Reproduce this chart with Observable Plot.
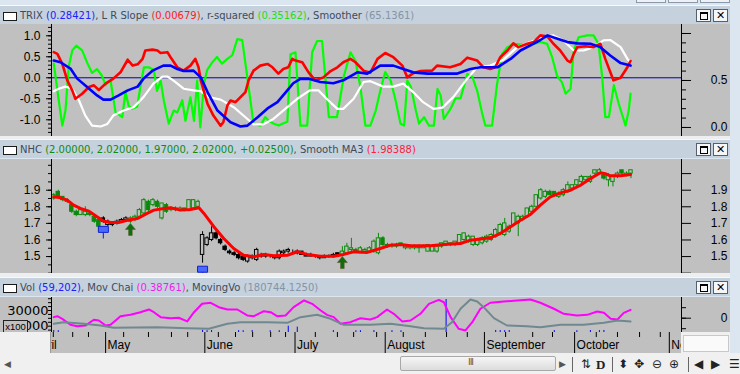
<!DOCTYPE html>
<html><head><meta charset="utf-8">
<script src="https://cdn.jsdelivr.net/npm/d3@7"></script>
<script src="https://cdn.jsdelivr.net/npm/@observablehq/plot@0.6"></script>
<style>
html,body{margin:0;padding:0;background:#dce6f1;}
#root{position:relative;width:740px;height:374px;overflow:hidden;background:#dce6f1;font-family:"Liberation Sans",Arial,sans-serif;}
.abs{position:absolute;}
.hdr{position:absolute;left:0;width:730px;height:19px;background:#c5d1dd;border-top:1px solid #f6f8fb;box-sizing:border-box;font-family:"DejaVu Sans",sans-serif;font-size:10px;line-height:17px;color:#3e4b5b;white-space:nowrap;overflow:hidden;}
.hdr .cb{position:absolute;left:3px;top:6px;width:12px;height:7px;background:#fff;border:1px solid #1a1a1a;}
.hdr .txt{position:absolute;left:20px;top:1px;}
.btn{position:absolute;top:3px;width:13px;height:11px;border:1px solid #55606c;background:#f4f6f8;font-size:11px;line-height:11px;text-align:center;color:#000;font-family:"DejaVu Sans",sans-serif;}
.sep{position:absolute;left:0;width:730px;background:#eceef0;}
.ico{position:absolute;top:357px;font-family:"DejaVu Sans",sans-serif;font-size:12px;color:#222;}
</style></head>
<body><div id="root"></div>
<script>
// ---------------- DATA ----------------
// x positions are trading-day indexes (bar i is centred on i + 0.5)
const monthNames = ["April","May","June","July","August","September","October","November"];
const monthStarts = [-4.6, 12, 34, 54, 74, 96, 116, 137];
const weekTicks = [0.4, 4.7, 8.2, 16, 21.5, 26.6, 30.2, 37, 40.8, 44.6, 48.6, 51.9, 58.5, 63.4, 67, 72.1, 78, 82.9, 87.6, 92.2, 100.7, 106.7, 111.1, 120.8, 125.5, 130.4, 135];

// Panel 1 : TRIX (blue), L R Slope (red), Smoother (white) on left axis; r-squared (green) on right axis 0..1
const trix = [[0,0.41],[1.5,0.37],[3.7,0.22],[5.2,-0.02],[7.4,-0.22],[9.6,-0.42],[11,-0.52],[12.6,-0.52],[14.4,-0.42],[16.4,-0.30],[18.6,-0.21],[19.9,-0.02],[21.9,0.17],[24.3,0.29],[25.9,0.29],[27.4,0.21],[28.8,0.16],[31,0.17],[32.6,0.01],[34.1,-0.34],[36.3,-0.78],[39.2,-1.06],[41.4,-1.16],[42.9,-1.14],[45.2,-0.94],[47.4,-0.73],[49.6,-0.58],[51.8,-0.30],[53.1,-0.13],[54.6,-0.03],[56.8,-0.03],[59.1,-0.10],[62,-0.13],[64.2,-0.06],[67.3,0.13],[69.5,0.10],[72.4,0.29],[75.3,0.29],[77.5,0.21],[79.7,0.13],[82.9,0.10],[89.5,0.10],[92.4,0.21],[94.6,0.25],[98.4,0.25],[101.3,0.45],[103.5,0.65],[105.7,0.77],[107.9,0.90],[109.5,1.01],[111.7,0.93],[113.9,0.85],[116.1,0.82],[119,0.81],[121.2,0.73],[123.4,0.53],[125.7,0.35],[127.9,0.29]];
const lrSlope = [[0,0.61],[0.8,0.57],[1.9,0.33],[3,-0.06],[4.1,-0.30],[4.8,-0.50],[6.3,-0.38],[7.8,-0.22],[8.9,-0.18],[10,-0.29],[11.5,-0.14],[13.2,-0.02],[14.8,0.13],[16.4,0.43],[17.5,0.29],[18.6,0.32],[19.7,0.45],[20.3,0.65],[21.9,0.67],[23,0.65],[23.7,0.59],[25.2,0.61],[25.9,0.49],[27.4,0.25],[28.8,0.17],[30.3,0.29],[31.4,0.45],[32.1,0.25],[32.6,-0.06],[34.1,-0.62],[35.4,-0.90],[37,-1.14],[37.6,-1.06],[38.5,-0.66],[39.2,-0.54],[40.3,-0.58],[41.4,-0.46],[42.5,-0.34],[43.2,-0.06],[44.3,0.17],[45.8,0.29],[47.4,0.33],[48.5,0.25],[49.8,0.10],[50.9,0.21],[52,0.25],[52.9,0.45],[53.6,0.41],[55.1,0.37],[56.5,0.13],[58,-0.06],[59.8,0.01],[61.4,0.16],[62.9,0.25],[64.2,0.37],[65.8,0.45],[66.9,0.37],[68.7,0.17],[70.2,0.12],[71.8,0.45],[73.5,0.59],[75.3,0.49],[77.3,0.29],[78.4,0.01],[79.7,0.11],[81.3,0.16],[83.9,0.17],[85,0.29],[87.9,0.25],[90.2,0.33],[91.7,0.48],[93.9,0.41],[95.3,0.25],[96.8,0.21],[97.9,0.25],[99,0.49],[100.6,0.65],[101.9,0.82],[103,0.73],[105,0.81],[106.4,0.85],[107.9,1.01],[109.5,0.98],[110.8,0.81],[112.3,0.65],[113.9,0.41],[114.6,0.37],[115.3,0.57],[116.1,0.73],[117.9,0.75],[119.7,0.73],[121.2,0.81],[122.3,0.45],[124.1,-0.06],[125.7,0.00],[127.2,0.25],[127.9,0.40]];
const smoother = [[0,-0.32],[1.1,-0.26],[2.6,-0.21],[4.1,-0.26],[5.6,-0.54],[7,-0.90],[8.5,-1.14],[10.4,-1.16],[11.9,-1.10],[13.2,-0.90],[15.5,-0.78],[17.7,-0.70],[19.9,-0.46],[22.1,-0.14],[24.1,0.03],[25.2,0.03],[26.5,-0.06],[28.8,-0.26],[31,-0.30],[32.6,-0.32],[34.3,-0.46],[37,-0.52],[39.9,-0.70],[42.5,-0.94],[44.3,-1.11],[46.5,-1.11],[48.7,-0.98],[51.8,-0.70],[54,-0.50],[56.8,-0.30],[58.7,-0.30],[60.9,-0.54],[62.9,-0.74],[64.2,-0.74],[66.5,-0.50],[68.7,-0.10],[70.2,-0.08],[73.1,-0.21],[75.3,-0.21],[77.5,-0.14],[79.7,-0.34],[81.9,-0.58],[84.2,-0.74],[86.2,-0.71],[88.6,-0.46],[91.7,-0.02],[93.9,0.25],[96.8,0.29],[99.7,0.43],[102.8,0.73],[105.7,0.85],[108.6,0.97],[110.8,1.01],[113,0.89],[115.3,0.65],[117.5,0.65],[119.7,0.73],[121.9,0.89],[123.4,0.90],[125.7,0.73],[127.2,0.45],[127.9,0.37]];
const rSquared = [[0,0.68],[0.4,0.54],[1.1,0.29],[1.9,0.02],[2.6,0.18],[3.3,0.64],[4.1,0.82],[5,0.87],[6.3,0.82],[7.4,0.69],[8.5,0.58],[9.6,0.62],[10.7,0.55],[11.5,0.45],[11.9,0.48],[12.6,0.50],[13.7,0.16],[15.2,0.11],[15.9,0.38],[16.6,0.23],[17.4,0.20],[18.5,0.22],[19.2,0.43],[20,0.64],[21.1,0.64],[22.2,0.61],[22.9,0.39],[23.7,0.50],[24.4,0.29],[25.5,0.04],[26.6,0.18],[27.4,0.16],[28.5,0.29],[29.2,0.07],[30.3,0.32],[31.1,0.07],[31.8,0.50],[32.5,0.00],[33.3,0.46],[34,0.61],[35.1,0.69],[36.2,0.75],[37.3,0.68],[38.5,0.73],[39.6,0.77],[40.7,0.94],[41.8,0.93],[42.9,0.54],[44.3,0.04],[45.8,0.02],[46.9,0.11],[47.7,0.07],[48.8,0.04],[49.9,0.02],[50.7,0.04],[51.8,0.06],[52.5,0.78],[53.6,0.80],[54.7,0.02],[56.2,0.02],[57.3,0.80],[58.4,0.92],[59.5,0.92],[61,0.11],[62.8,0.11],[64.3,0.54],[65.8,0.80],[66.9,0.71],[68,0.43],[69.1,0.02],[70.2,0.02],[71.4,0.18],[72.4,0.39],[73.5,0.59],[74.7,0.50],[75.8,0.29],[76.9,0.04],[77.7,0.02],[78.4,0.50],[79.2,0.43],[80.3,0.18],[81,0.04],[82.1,0.11],[83.2,0.02],[84.3,0.02],[85.1,0.41],[85.8,0.34],[86.5,0.09],[88,0.20],[89.1,0.31],[90.2,0.31],[91.7,0.57],[92.8,0.54],[93.9,0.39],[95,0.15],[95.7,0.02],[97.2,0.02],[98.3,0.46],[99.4,0.78],[100.5,0.85],[102,0.89],[104.2,0.88],[106.4,0.89],[107.9,0.91],[109.4,0.89],[110.5,0.75],[111.6,0.55],[112.7,0.48],[113.5,0.36],[114.6,0.41],[115.3,0.82],[116.4,0.96],[118.3,0.98],[119.7,0.98],[120.8,0.89],[121.6,0.54],[122.3,0.11],[123.1,0.11],[124.2,0.45],[125.3,0.25],[126.8,0.02],[127.5,0.18],[127.9,0.36]];
const p1LeftTicks = [-1, -0.5, 0, 0.5, 1];
const p1RightTicks = [0, 0.5, 1];

// Panel 2 : NHC daily candles (open, high, low, close) and Smooth MA3
const opens  = [1.85,1.89,1.86,1.84,1.81,1.77,1.75,1.75,1.76,1.74,1.72,1.73,1.69,1.69,1.70,1.71,1.72,1.71,1.72,1.74,1.76,1.83,1.81,1.83,1.73,1.81,1.78,1.79,1.78,1.79,1.78,1.79,1.80,1.51,1.57,1.60,1.64,1.60,1.56,1.53,1.52,1.51,1.50,1.47,1.49,1.48,1.51,1.50,1.50,1.49,1.49,1.52,1.53,1.53,1.52,1.53,1.51,1.50,1.50,1.50,1.49,1.50,1.50,1.52,1.51,1.52,1.54,1.54,1.52,1.53,1.53,1.53,1.52,1.61,1.56,1.56,1.56,1.57,1.55,1.55,1.55,1.56,1.55,1.53,1.53,1.53,1.56,1.57,1.57,1.57,1.58,1.60,1.59,1.57,1.57,1.58,1.59,1.60,1.62,1.64,1.63,1.65,1.69,1.70,1.72,1.74,1.77,1.80,1.85,1.86,1.89,1.89,1.86,1.87,1.89,1.91,1.93,1.95,1.96,1.95,2.00,2.00,1.99,1.96,1.95,1.98,2.02,1.99,2.00];
const highs  = [1.88,1.90,1.86,1.85,1.82,1.78,1.79,1.80,1.77,1.75,1.73,1.74,1.72,1.71,1.72,1.73,1.74,1.74,1.75,1.79,1.85,1.84,1.85,1.84,1.82,1.82,1.80,1.80,1.80,1.79,1.84,1.84,1.84,1.65,1.62,1.68,1.65,1.61,1.57,1.54,1.53,1.52,1.51,1.51,1.51,1.55,1.52,1.52,1.51,1.50,1.54,1.54,1.55,1.54,1.54,1.53,1.52,1.52,1.51,1.50,1.51,1.51,1.52,1.52,1.56,1.58,1.61,1.55,1.56,1.55,1.56,1.60,1.64,1.62,1.58,1.58,1.58,1.58,1.57,1.57,1.57,1.57,1.57,1.57,1.57,1.57,1.58,1.59,1.58,1.59,1.63,1.64,1.63,1.62,1.61,1.62,1.63,1.64,1.67,1.70,1.73,1.69,1.76,1.75,1.75,1.79,1.81,1.87,1.91,1.90,1.90,1.89,1.89,1.91,1.95,1.93,1.96,1.99,1.98,1.99,2.02,2.03,2.00,2.00,1.99,2.01,2.02,2.01,2.02];
const lows   = [1.84,1.85,1.83,1.82,1.76,1.74,1.75,1.74,1.74,1.70,1.65,1.70,1.68,1.68,1.69,1.70,1.71,1.70,1.71,1.73,1.75,1.77,1.80,1.79,1.72,1.76,1.77,1.77,1.77,1.77,1.77,1.78,1.79,1.46,1.56,1.59,1.60,1.57,1.53,1.51,1.50,1.48,1.47,1.46,1.48,1.47,1.49,1.49,1.49,1.48,1.48,1.51,1.52,1.52,1.51,1.51,1.50,1.50,1.49,1.48,1.49,1.49,1.49,1.50,1.50,1.51,1.53,1.52,1.52,1.52,1.52,1.52,1.51,1.56,1.55,1.55,1.55,1.56,1.54,1.54,1.54,1.52,1.55,1.53,1.53,1.52,1.55,1.56,1.56,1.56,1.57,1.59,1.58,1.56,1.56,1.57,1.58,1.59,1.61,1.63,1.62,1.64,1.68,1.62,1.71,1.73,1.76,1.79,1.84,1.85,1.87,1.87,1.85,1.86,1.88,1.90,1.92,1.94,1.95,1.94,1.99,1.99,1.96,1.92,1.92,1.97,1.99,1.98,1.97];
const closes = [1.87,1.86,1.84,1.83,1.77,1.75,1.78,1.77,1.75,1.71,1.68,1.71,1.71,1.70,1.71,1.72,1.73,1.73,1.74,1.78,1.84,1.78,1.84,1.80,1.82,1.77,1.79,1.78,1.79,1.78,1.84,1.84,1.83,1.63,1.61,1.64,1.61,1.58,1.54,1.52,1.51,1.49,1.48,1.50,1.50,1.54,1.50,1.51,1.50,1.50,1.53,1.53,1.54,1.53,1.53,1.51,1.50,1.51,1.50,1.49,1.50,1.50,1.51,1.51,1.53,1.56,1.55,1.53,1.55,1.54,1.55,1.59,1.61,1.57,1.57,1.57,1.57,1.58,1.56,1.56,1.56,1.55,1.56,1.57,1.56,1.56,1.58,1.59,1.58,1.59,1.63,1.64,1.62,1.62,1.60,1.61,1.62,1.63,1.66,1.69,1.70,1.68,1.76,1.74,1.74,1.79,1.80,1.87,1.90,1.89,1.87,1.87,1.88,1.90,1.93,1.93,1.96,1.98,1.98,1.98,2.02,2.02,1.97,1.99,1.98,2.00,2.00,2.00,2.02];
const smoothMA3 = [[0,1.860],[1.5,1.854],[3,1.840],[4.4,1.810],[5.9,1.790],[7.8,1.774],[9.6,1.740],[11.1,1.713],[12.6,1.705],[14.4,1.705],[16.3,1.719],[18.5,1.729],[20.7,1.760],[22.2,1.780],[24.4,1.790],[25.9,1.794],[28.1,1.780],[30.3,1.784],[32.2,1.794],[33.3,1.760],[35.5,1.680],[37.7,1.609],[39.9,1.549],[42.1,1.508],[44.4,1.499],[46.6,1.513],[48.8,1.505],[51.8,1.508],[54,1.529],[56.2,1.513],[59.1,1.502],[62.1,1.502],[64.3,1.513],[66.5,1.529],[69.5,1.525],[72.4,1.549],[74.7,1.569],[76.9,1.573],[79.1,1.565],[83.5,1.565],[86.5,1.573],[90.2,1.579],[92.4,1.599],[96.8,1.613],[99,1.639],[101.3,1.680],[103.5,1.719],[105.7,1.754],[107.9,1.810],[110.1,1.860],[112.4,1.884],[114.6,1.900],[116.8,1.930],[119,1.970],[121.2,2.005],[122.3,2.000],[123.4,1.987],[125.7,1.987],[127.9,1.995]];
const buySignals = [17, 64];
const sellSignals = [11, 33];
const p2Ticks = [1.5, 1.6, 1.7, 1.8, 1.9];

// Panel 3 : volume (shares), Mov Chaikin (right axis units), MovingVol (x100 shares)
const volume = [450000,430000,150000,120000,180000,140000,110000,160000,130000,170000,150000,120000,100000,140000,110000,130000,90000,120000,160000,140000,180000,150000,120000,110000,140000,130000,100000,120000,110000,150000,130000,160000,180000,480000,430000,460000,150000,170000,140000,120000,160000,440000,430000,180000,450000,150000,130000,170000,420000,140000,430000,160000,1000000,150000,880000,180000,140000,160000,120000,150000,130000,140000,440000,160000,170000,150000,140000,420000,430000,150000,160000,440000,150000,140000,170000,430000,150000,420000,160000,130000,120000,140000,110000,130000,150000,120000,140000,4400000,180000,150000,130000,160000,140000,120000,150000,130000,170000,140000,460000,440000,430000,450000,140000,130000,150000,120000,160000,140000,130000,150000,170000,440000,140000,130000,150000,120000,430000,140000,160000,450000,150000,440000,460000,140000,130000,150000,120000,140000,59202];
const movChaikin = [[0,0.10],[0.8,0.19],[1.9,-0.06],[3.7,-0.63],[5.2,-0.76],[7,-0.70],[8.9,-0.15],[10,-0.22],[11.5,-0.70],[12.6,-0.63],[14.8,0.19],[17,0.32],[19.2,0.57],[21.1,0.83],[22.2,0.57],[23.7,0.10],[25.9,0],[27.7,0.04],[29.6,-0.31],[31.1,0.57],[32.9,1.37],[34.8,1.47],[36.6,1.05],[38.5,0.83],[40.7,0.83],[42.9,0.26],[44.4,0.19],[46.6,0.67],[48.1,0.57],[49.5,0.19],[51.4,0.26],[53.2,1.05],[55.5,1.69],[57.3,1.37],[59.2,0.73],[60.6,0.32],[62.1,0.10],[63.6,-0.53],[65.8,-0.38],[68,0],[70.2,-0.12],[71.7,0.10],[73.9,0.83],[75.4,0.42],[77.3,-0.31],[79.1,-0.22],[81.3,0.42],[83.2,1.37],[85.4,1.75],[86.5,1.52],[88,0.10],[89.8,-1.01],[91.3,-1.17],[92.8,-0.38],[94.6,0.90],[96.8,1.47],[99.8,1.59],[102.8,1.69],[105.7,1.78],[107.9,1.47],[110.9,0.90],[113.1,0.42],[116,0.26],[118.3,0.32],[120.5,0.64],[122,0.51],[123.5,-0.06],[125,-0.12],[126.4,0.51],[127.9,0.80]];
const movingVol = [[0,13057],[2.2,15096],[6.7,13057],[10.4,10892],[13.3,7962],[22.9,8726],[29.6,7452],[34.4,6688],[38.5,13057],[41.4,15096],[47.3,15096],[51.8,14331],[54.7,21465],[58.4,24522],[61.4,19427],[64.3,11783],[70.2,11783],[74.7,13057],[79.1,10000],[82.1,7452],[86.5,6688],[88.3,15096],[90.2,32166],[92.4,44013],[93.9,41465],[95.7,32166],[97.6,20191],[100.5,10892],[104.9,10000],[107.9,8726],[112.4,11783],[117.5,11783],[122,14331],[125,17261],[127.9,15987]];
const p3LeftTicks = [10000, 30000];
const p3RightTicks = [-1, 0, 1];

// ---------------- LAYOUT / SCALES ----------------
const root = document.getElementById("root");
const FONT = "Liberation Sans, Arial, sans-serif";
const XDOMAIN = [0, 139.7];
const W = 730, ML = 51, MR = 49;
const BG = "#c0c0c0";

// panel-1 right axis (r-squared 0..1) expressed in left-axis units
const rToLeft = r => -1.183 + 2.238 * r;
// panel-3 right axis (chaikin) expressed in left-axis (x100 volume) units
const chToLeft = c => 20191 + 13376 * c;

function addSvg(svg, top) {
  svg.style.position = "absolute";
  svg.style.left = "0px";
  svg.style.top = top + "px";
  svg.style.overflow = "hidden";
  root.appendChild(svg);
}
function panel(height, ydomain, marks) {
  return Plot.plot({
    width: W, height, marginLeft: ML, marginRight: MR, marginTop: 0, marginBottom: 0,
    x: {domain: XDOMAIN, axis: null},
    y: {domain: ydomain},
    color: {type: "identity"},
    style: {background: BG, color: "#000", fontFamily: FONT, fontSize: "12px"},
    marks: [
      ...marks,
      Plot.ruleX([XDOMAIN[0], XDOMAIN[1]], {stroke: "#000", strokeWidth: 1})
    ]
  });
}
const frange = (a, b, s) => d3.range(Math.round(a / s), Math.round(b / s) + 1).map(k => +(k * s).toFixed(4));

// ---------- frame pieces ----------
function div(cls, css, html) {
  const d = document.createElement("div");
  d.className = cls; d.style.cssText = css; if (html != null) d.innerHTML = html;
  root.appendChild(d); return d;
}
div("abs", "left:636px;top:-3px;width:28px;height:4px;border:1px solid #8a9aaa;background:#eef2f6;");
div("abs", "left:668px;top:-3px;width:28px;height:4px;border:1px solid #8a9aaa;background:#eef2f6;");
div("abs", "left:700px;top:-3px;width:28px;height:4px;border:1px solid #8a9aaa;background:#eef2f6;");

function header(top, html) {
  return div("hdr", `top:${top}px;`, `<div class="cb"></div><div class="txt">${html}</div>
    <div class="btn" style="left:696px;"><div style="position:absolute;left:3px;top:2px;width:6px;height:5px;border:1px solid #000;border-top-width:2px;"></div></div>
    <div class="btn" style="left:713px;">✕</div>`);
}
const C = (col, t) => `<span style="color:${col}">${t}</span>`;
header(5, `TRIX ${C("#2020ff","(0.28421)")}, L R Slope ${C("#ff2020","(0.00679)")}, r-squared ${C("#22dd22","(0.35162)")}, Smoother ${C("#8494a6","(65.1361)")}`);
div("sep", "top:136px;height:3px;");
header(139, `NHC ${C("#108a10","(2.00000, 2.02000, 1.97000, 2.02000, +0.02500)")}, Smooth MA3 ${C("#ff2040","(1.98388)")}`);
div("sep", "top:273px;height:4px;");
header(277, `Vol ${C("#2020ff","(59,202)")}, Mov Chai ${C("#ee22ee","(0.38761)")}, MovingVo ${C("#8494a6","(180744.1250)")}`);

// ---------- Panel 1 ----------
const Y1 = [-1.398, 1.269];
const fmt1 = d => d.toFixed(1);
const p1 = panel(112, Y1, [
  Plot.ruleY([0], {stroke: "#0000b0", strokeWidth: 1}),
  Plot.line(rSquared, {x: d => d[0] + 0.5, y: d => rToLeft(d[1]), stroke: "#00ff00", strokeWidth: 2.2}),
  Plot.line(smoother, {x: d => d[0] + 0.5, y: d => d[1], stroke: "#ffffff", strokeWidth: 2.2}),
  Plot.line(lrSlope, {x: d => d[0] + 0.5, y: d => d[1], stroke: "#ff0000", strokeWidth: 2.6}),
  Plot.line(trix, {x: d => d[0] + 0.5, y: d => d[1], stroke: "#0000ff", strokeWidth: 2.6}),
  Plot.axisY(frange(-1.3, 1.2, 0.1), {anchor: "left", tickSize: 3, tickFormat: () => ""}),
  Plot.axisY(p1LeftTicks, {anchor: "left", tickSize: 5, tickPadding: 6, tickFormat: fmt1, fontSize: 12}),
  Plot.axisY(frange(0, 1, 0.1).map(rToLeft), {anchor: "right", tickSize: 4, tickFormat: () => ""}),
  Plot.axisY(p1RightTicks.map(rToLeft), {anchor: "right", tickSize: 9, tickFormat: () => ""}),
  Plot.text(p1RightTicks.filter(d => d < 1), {y: d => rToLeft(d), text: d => d.toFixed(1), frameAnchor: "right", dx: 46, textAnchor: "end", fontSize: 12})
]);
addSvg(p1, 24);

// ---------- Panel 2 ----------
const Y2 = [1.398, 2.085];
let state = "#0a8a0a";
const bars = opens.map((o, i) => {
  if (sellSignals.includes(i)) state = "#000000";
  if (buySignals.includes(i)) state = "#0a8a0a";
  return {i, o, h: highs[i], l: lows[i], c: closes[i], col: state};
});
const arrowSymbol = {draw(ctx) {
  ctx.moveTo(0, 0); ctx.lineTo(5, 6); ctx.lineTo(1.8, 6); ctx.lineTo(1.8, 12);
  ctx.lineTo(-1.8, 12); ctx.lineTo(-1.8, 6); ctx.lineTo(-5, 6); ctx.closePath();
}};
const flagSymbol = {draw(ctx) { ctx.rect(-5, 3, 10, 6); }};
const stickSymbol = {draw(ctx) { ctx.moveTo(0, 9); ctx.lineTo(0, 15); }};
const p2 = panel(114, Y2, [
  Plot.ruleX(bars, {x: d => d.i + 0.5, y1: "l", y2: "h", stroke: "col", strokeWidth: 1}),
  Plot.rect(bars, {x1: d => d.i + 0.12, x2: d => d.i + 0.88, y1: d => Math.min(d.o, d.c), y2: d => Math.max(d.o, d.c),
    fill: d => d.c > d.o ? BG : d.col, stroke: "col", strokeWidth: 1}),
  Plot.line(smoothMA3, {x: d => d[0] + 0.5, y: d => d[1], stroke: "#ff0000", strokeWidth: 3}),
  Plot.dot(buySignals, {x: d => d + 0.5, y: d => lows[d], symbol: arrowSymbol, fill: "#0e6e0e", stroke: "#5a5a2a", strokeWidth: 0.6, r: 6}),
  Plot.dot(sellSignals, {x: d => d + 0.5, y: d => lows[d], symbol: stickSymbol, stroke: "#2030ff", fill: "none", strokeWidth: 1.2, r: 6}),
  Plot.dot(sellSignals, {x: d => d + 0.5, y: d => lows[d], symbol: flagSymbol, fill: "#4a6aff", stroke: "#1020d0", strokeWidth: 1, r: 6}),
  Plot.axisY(frange(1.40, 2.05, 0.05), {anchor: "left", tickSize: 3, tickFormat: () => ""}),
  Plot.axisY(p2Ticks, {anchor: "left", tickSize: 5, tickPadding: 6, tickFormat: fmt1, fontSize: 12}),
  Plot.axisY(frange(1.4, 2.0, 0.1), {anchor: "right", tickSize: 9, tickFormat: () => ""}),
  Plot.text(p2Ticks, {y: d => d, text: fmt1, frameAnchor: "right", dx: 46, textAnchor: "end", fontSize: 12})
]);
addSvg(p2, 159);

// ---------- Panel 3 ----------
const Y3 = [1974, 46561];
const p3 = panel(35, Y3, [
  Plot.ruleX(volume.map((v, i) => ({i, v})), {x: d => d.i + 0.5, y1: 0, y2: d => d.v / 100, stroke: "#0000ff", strokeWidth: 1, clip: true}),
  Plot.line(movChaikin, {x: d => d[0] + 0.5, y: d => chToLeft(d[1]), stroke: "#ff00ff", strokeWidth: 2}),
  Plot.line(movingVol, {x: d => d[0] + 0.5, y: d => d[1], stroke: "#708890", strokeWidth: 2}),
  Plot.axisY(frange(5000, 45000, 5000), {anchor: "left", tickSize: 3, tickFormat: () => ""}),
  Plot.text(p3LeftTicks, {y: d => d, text: d => String(d), frameAnchor: "left", dx: -3, textAnchor: "end", fontSize: 13, fontFamily: "DejaVu Sans"}),
  Plot.axisY(p3RightTicks.map(chToLeft), {anchor: "right", tickSize: 4, tickFormat: () => ""}),
  Plot.axisY([chToLeft(0)], {anchor: "right", tickSize: 9, tickFormat: () => ""}),
  Plot.text([0], {y: d => chToLeft(d), text: d => String(d), frameAnchor: "right", dx: 46, textAnchor: "end", fontSize: 12})
]);
addSvg(p3, 297);
div("abs", "left:3px;top:320px;width:23px;height:11px;border:1px solid #222;background:#c0c0c0;font-size:9.5px;line-height:11px;text-align:center;color:#000;", "x100");

// ---------- Time axis ----------
const months = monthNames.map((name, k) => ({name, x: monthStarts[k]}));
const ax = Plot.plot({
  width: W, height: 21, marginLeft: ML, marginRight: MR, marginTop: 0, marginBottom: 0,
  x: {domain: XDOMAIN, axis: null},
  style: {background: BG, color: "#000", fontFamily: FONT, fontSize: "12px"},
  marks: [
    Plot.tickX(weekTicks, {x: d => d, insetBottom: 16, stroke: "#000", clip: true}),
    Plot.tickX(monthStarts, {x: d => d, stroke: "#000", clip: true}),
    Plot.text(months, {x: "x", text: "name", dx: 2, dy: 2, textAnchor: "start", fontSize: 12, clip: true})
  ]
});
addSvg(ax, 332);
div("abs", "left:0px;top:332px;width:50px;height:21px;background:#f0f0f0;border-right:1px solid #9a9a9a;");
div("abs", "left:681px;top:332px;width:49px;height:21px;background:#f0f0f0;");
div("abs", "left:683px;top:335px;width:44px;height:15px;background:#fafafa;border:1px solid #c8c8c8;");

// ---------- scroll row ----------
div("abs", "left:0px;top:353px;width:740px;height:21px;background:#f0f0f0;");
div("abs", "left:4px;top:359px;font-size:9px;color:#555;font-family:'DejaVu Sans';", "◀");
div("abs", "left:400px;top:356px;width:154px;height:13px;border:1px solid #a8a8a8;border-radius:2px;background:linear-gradient(#f6f6f6,#dcdcdc);");
div("abs", "left:468px;top:357px;font-size:9px;color:#555;font-family:'DejaVu Sans';letter-spacing:-1px;", "III");
div("abs", "left:559px;top:359px;font-size:9px;color:#555;font-family:'DejaVu Sans';", "▶");
div("abs", "left:572px;top:357px;width:1px;height:15px;background:#666;");
div("ico", "left:581px;", "⇅");
div("ico", "left:596px;font-weight:bold;font-family:'Liberation Serif';font-size:13px;", "D");
div("abs", "left:612px;top:357px;width:1px;height:15px;background:#666;");
div("ico", "left:618px;", "⬍");
div("ico", "left:634px;", "✥");
div("ico", "left:652px;", "⊖");
div("ico", "left:669px;", "⊕");
div("abs", "left:688px;top:357px;width:1px;height:15px;background:#666;");
div("ico", "left:694px;", "◀");
div("ico", "left:711px;", "▶");
div("ico", "left:729px;", "☰");
</script>
</body></html>
